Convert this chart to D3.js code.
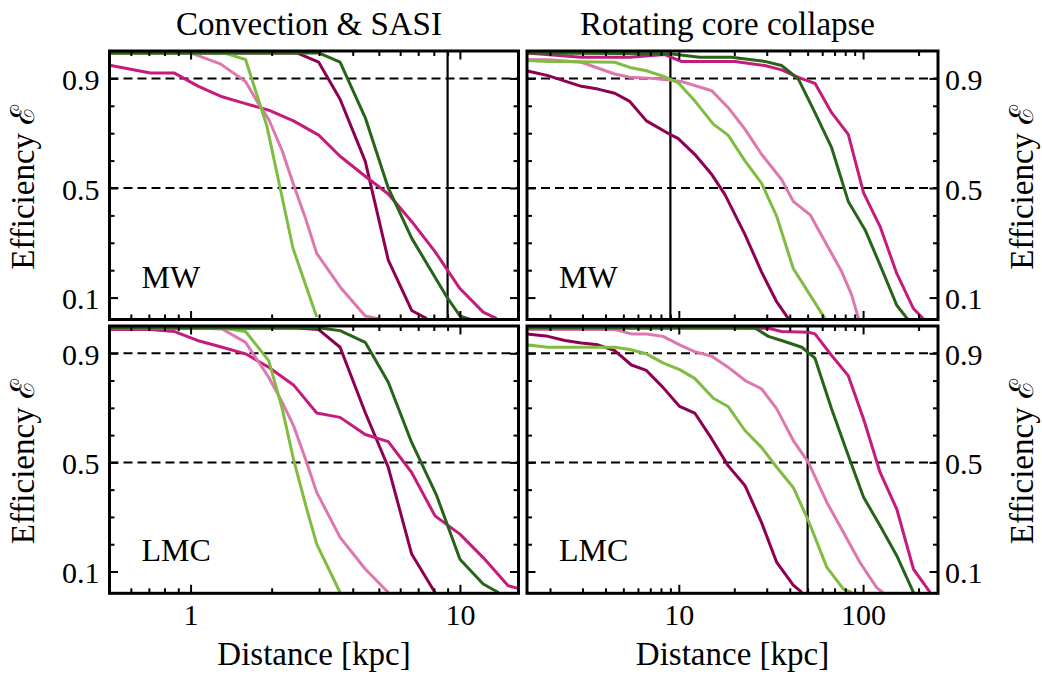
<!DOCTYPE html>
<html>
<head>
<meta charset="utf-8">
<script src="https://cdn.jsdelivr.net/npm/d3@7"></script>
<style>
  body { margin: 0; background: #fff; }
</style>
</head>
<body>
<svg id="chart" width="1042" height="674"></svg>
<script>
// line colours, same order as the series inside each panel array
const seriesColors = ["#8e0152", "#c51b7d", "#de77ae", "#7fbc41", "#276419"];

const columnTitles = ["Convection & SASI", "Rotating core collapse"];
const rowLabels = ["MW", "LMC"];
const yMajorTicks = [0.1, 0.5, 0.9];
const yMinorTicks = [0.2, 0.3, 0.4, 0.6, 0.7, 0.8];
const xMajorLeft = [1, 10];
const xMajorRight = [10, 100];
const xDomainLeft = [0.5, 16.5];
const xDomainRight = [1.5, 255];
// distance of the vertical marker in each panel (tl, tr, bl, br); null = none
const markerDistance = [9, 9, null, 50];

// [distance kpc, efficiency] per series: dark magenta, magenta, pink, light green, dark green
const convMW = [
  [[0.5,0.993],[2.48,0.993],[2.99,0.959],[3.59,0.824],[4.45,0.598],[5.42,0.237],[6.62,0.053],[7.53,0.023]],
  [[0.506,0.947],[0.71,0.92],[0.868,0.92],[1.07,0.871],[1.31,0.833],[1.6,0.808],[1.95,0.784],[2.41,0.745],[2.99,0.693],[3.59,0.616],[4.45,0.543],[5.42,0.478],[6.62,0.378],[8.08,0.268],[10,0.133],[12.2,0.047],[13.7,0.023]],
  [[0.5,0.993],[1.0,0.993],[1.29,0.953],[1.6,0.889],[1.79,0.806],[1.95,0.751],[2.19,0.635],[2.41,0.513],[2.67,0.39],[2.94,0.261],[3.59,0.139],[4.45,0.033],[4.98,0.023]],
  [[0.5,0.993],[1.33,0.993],[1.6,0.969],[1.92,0.726],[2.15,0.5],[2.4,0.28],[2.94,0.029]],
  [[0.5,0.993],[2.99,0.993],[3.59,0.959],[4.45,0.757],[5.42,0.5],[6.62,0.317],[8.93,0.103],[10,0.033],[11.2,0.017]]
];
const rotMW = [
  [[1.49,0.928],[1.95,0.91],[2.96,0.871],[3.64,0.861],[4.49,0.846],[5.42,0.816],[6.67,0.745],[8.93,0.696],[9.9,0.681],[12.2,0.623],[15.1,0.549],[17.8,0.476],[22.9,0.329],[28.1,0.194],[34,0.084],[39.3,0.023]],
  [[1.49,0.993],[2.96,0.977],[5.42,0.977],[8.39,0.987],[10.3,0.962],[13.3,0.962],[20.2,0.962],[29.3,0.947],[36.1,0.931],[44.5,0.904],[54.8,0.882],[67.5,0.775],[83.1,0.696],[100.6,0.482],[123.7,0.359],[152.3,0.188],[187.6,0.06],[216,0.017]],
  [[1.49,0.969],[1.95,0.968],[2.96,0.959],[4.49,0.916],[5.42,0.904],[6.81,0.901],[8.93,0.894],[10.3,0.889],[15.1,0.855],[18.5,0.794],[22.9,0.714],[28.1,0.623],[36.1,0.531],[41.8,0.451],[51.6,0.402],[62.2,0.304],[76.6,0.194],[86.8,0.109],[94.4,0.023]],
  [[1.49,0.965],[1.95,0.962],[2.96,0.961],[4.49,0.959],[5.42,0.94],[6.67,0.928],[8.05,0.91],[9.9,0.885],[12.2,0.818],[15.4,0.733],[18.5,0.693],[22.9,0.598],[28.1,0.518],[34,0.396],[41.8,0.206],[51.6,0.109],[62.2,0.023]],
  [[1.49,0.993],[8.93,0.99],[13.0,0.977],[19.3,0.977],[29.3,0.962],[36.1,0.947],[44.5,0.898],[54.8,0.775],[67.5,0.647],[83.1,0.451],[102.6,0.347],[126,0.206],[152.3,0.072],[176.6,0.017]]
];
const convLMC = [
  [[0.5,0.993],[2.48,0.993],[2.99,0.987],[3.59,0.922],[4.45,0.683],[5.42,0.482],[6.62,0.164],[8.08,0.023]],
  [[0.506,0.987],[0.71,0.987],[0.868,0.98],[1.06,0.947],[1.31,0.922],[1.6,0.898],[1.95,0.849],[2.41,0.784],[2.94,0.681],[3.59,0.665],[4.45,0.602],[5.42,0.576],[6.62,0.463],[8.08,0.304],[10,0.237],[12.2,0.151],[15.1,0.048],[16.4,0.038]],
  [[0.5,0.993],[1.09,0.992],[1.31,0.989],[1.6,0.94],[1.95,0.812],[2.19,0.72],[2.41,0.635],[2.67,0.512],[2.94,0.39],[3.59,0.225],[4.45,0.109],[5.42,0.023]],
  [[0.5,0.993],[1.33,0.992],[1.6,0.98],[1.95,0.873],[2.19,0.696],[2.41,0.512],[2.7,0.329],[2.94,0.2],[3.59,0.023]],
  [[0.5,0.993],[3.03,0.993],[3.59,0.983],[4.45,0.94],[5.42,0.794],[6.62,0.573],[8.2,0.378],[10,0.145],[12.2,0.054],[13.9,0.023]]
];
const rotLMC = [
  [[1.49,0.971],[1.95,0.962],[2.41,0.947],[2.96,0.938],[3.64,0.931],[4.49,0.91],[5.53,0.857],[6.67,0.837],[8.2,0.775],[10.1,0.705],[12.2,0.681],[15.1,0.586],[18.5,0.488],[22.9,0.414],[28.1,0.28],[34,0.133],[41.8,0.05],[46.5,0.023]],
  [[1.49,0.993],[17.1,0.993],[30.6,0.992],[36.1,0.98],[50.5,0.977],[54.8,0.971],[67.5,0.892],[83.1,0.818],[100.6,0.659],[123.7,0.463],[152.3,0.329],[187.6,0.109],[231,0.023]],
  [[1.49,0.987],[4.49,0.987],[5.53,0.971],[6.67,0.971],[8.2,0.962],[10.3,0.928],[12.2,0.906],[15.1,0.889],[18.5,0.849],[22.9,0.8],[28.1,0.77],[34,0.696],[41.8,0.58],[50.5,0.5],[63.6,0.353],[78.3,0.243],[96.2,0.133],[118.5,0.041],[128,0.023]],
  [[1.49,0.931],[1.95,0.922],[2.96,0.922],[4.49,0.922],[5.42,0.914],[6.67,0.898],[8.2,0.865],[10.1,0.84],[12.2,0.808],[15.4,0.735],[18.5,0.705],[22.9,0.616],[28.1,0.555],[34,0.482],[41.8,0.408],[50.5,0.286],[63.6,0.115],[78.3,0.035],[86.8,0.023]],
  [[1.49,0.993],[25.9,0.993],[30.6,0.962],[36.1,0.947],[46.5,0.922],[54.8,0.882],[67.5,0.696],[83.1,0.525],[100.6,0.372],[123.7,0.268],[152.3,0.158],[187.6,0.023]]
];

const svg = d3.select("#chart");
const tickFont = 30;
const labelFont = 33;
const serif = "'Liberation Serif', 'DejaVu Serif', 'Times New Roman', serif";

// panel boxes in pixels
const colX = [[109.5, 518.5], [527, 938]];
const rowY = [[51, 319.5], [326, 593.3]];

const panels = [
  { row: 0, col: 0, data: convMW },
  { row: 0, col: 1, data: rotMW },
  { row: 1, col: 0, data: convLMC },
  { row: 1, col: 1, data: rotLMC }
];

function minorTicks(domain) {
  var ticks = [];
  for (var e = -1; e <= 3; e++) {
    for (var k = 2; k <= 9; k++) {
      var v = k * Math.pow(10, e);
      if (v > domain[0] && v < domain[1]) ticks.push(v);
    }
  }
  return ticks;
}

panels.forEach((p, i) => {
  const x = d3.scaleLog()
    .domain(p.col === 0 ? xDomainLeft : xDomainRight)
    .range(colX[p.col]);
  const y = d3.scaleLinear()
    .domain([0.02, 1.0])
    .range([rowY[p.row][1], rowY[p.row][0]]);
  const xMajor = p.col === 0 ? xMajorLeft : xMajorRight;
  const xMinor = minorTicks(x.domain());
  const x0 = colX[p.col][0], x1 = colX[p.col][1];
  const y0 = rowY[p.row][0], y1 = rowY[p.row][1];

  const g = svg.append("g");

  svg.append("clipPath").attr("id", "clip" + i)
    .append("rect")
    .attr("x", x0).attr("y", y0)
    .attr("width", x1 - x0).attr("height", y1 - y0);

  const plot = g.append("g").attr("clip-path", "url(#clip" + i + ")");

  // dashed reference levels
  plot.selectAll("line.level")
    .data([0.9, 0.5])
    .enter().append("line")
    .attr("x1", x0).attr("x2", x1)
    .attr("y1", d => y(d)).attr("y2", d => y(d))
    .attr("stroke", "#000").attr("stroke-width", 2)
    .attr("stroke-dasharray", "9,5");

  if (markerDistance[i] !== null) {
    plot.append("line")
      .attr("x1", x(markerDistance[i])).attr("x2", x(markerDistance[i]))
      .attr("y1", y0).attr("y2", y1)
      .attr("stroke", "#000").attr("stroke-width", 2.2);
  }

  const line = d3.line().x(d => x(d[0])).y(d => y(d[1]));
  plot.selectAll("path.curve")
    .data(p.data)
    .enter().append("path")
    .attr("d", line)
    .attr("fill", "none")
    .attr("stroke", (d, j) => seriesColors[j])
    .attr("stroke-width", 3)
    .attr("stroke-linejoin", "round");

  // ticks on all four sides, pointing inward
  function addAxis(axis, tx, ty, values, size, showLabels, pad) {
    const a = axis.tickValues(values).tickSize(-size).tickPadding(pad);
    if (!showLabels) a.tickFormat("");
    else a.tickFormat(d3.format("~g"));
    const ag = g.append("g").attr("transform", "translate(" + tx + "," + ty + ")").call(a);
    ag.attr("font-family", serif);
    ag.select(".domain").remove();
    ag.selectAll(".tick line").attr("stroke-width", 2);
    ag.selectAll("text")
      .style("font-family", serif)
      .style("font-size", tickFont + "px");
    return ag;
  }

  const xb = addAxis(d3.axisBottom(x), 0, y1, xMajor, 8.5, p.row === 1, 10);
  xb.selectAll("text").attr("dy", "0.71em");
  addAxis(d3.axisBottom(x), 0, y1, xMinor, 5, false, 0);
  addAxis(d3.axisTop(x), 0, y0, xMajor, 8.5, false, 0);
  addAxis(d3.axisTop(x), 0, y0, xMinor, 5, false, 0);

  const yl = addAxis(d3.axisLeft(y), x0, 0, yMajorTicks, 8.5, p.col === 0, 10);
  yl.selectAll("text").attr("dy", "0.37em");
  addAxis(d3.axisLeft(y), x0, 0, yMinorTicks, 5, false, 0);
  const yr = addAxis(d3.axisRight(y), x1, 0, yMajorTicks, 8.5, p.col === 1, 7);
  yr.selectAll("text").attr("dy", "0.37em");
  addAxis(d3.axisRight(y), x1, 0, yMinorTicks, 5, false, 0);

  // frame
  g.append("rect")
    .attr("x", x0).attr("y", y0)
    .attr("width", x1 - x0).attr("height", y1 - y0)
    .attr("fill", "none").attr("stroke", "#000").attr("stroke-width", 3);

  g.append("text")
    .attr("x", x0 + 32).attr("y", y1 - 32)
    .style("font-family", serif)
    .style("font-size", "32px")
    .text(rowLabels[p.row]);

  // y label, left column on the left side, right column on the right side
  const lx = p.col === 0 ? 34 : 1033;
  g.append("text")
    .attr("transform", "translate(" + lx + "," + ((y0 + y1) / 2 + 2) + ") rotate(-90)")
    .attr("text-anchor", "middle")
    .style("font-family", serif)
    .style("font-size", labelFont + "px")
    .text("Efficiency ℰ");

  if (p.row === 0) {
    g.append("text")
      .attr("x", (x0 + x1) / 2 - 5).attr("y", 35)
      .attr("text-anchor", "middle")
      .style("font-family", serif)
      .style("font-size", labelFont + "px")
      .text(columnTitles[p.col]);
  } else {
    g.append("text")
      .attr("x", (x0 + x1) / 2).attr("y", 665)
      .attr("text-anchor", "middle")
      .style("font-family", serif)
      .style("font-size", labelFont + "px")
      .text("Distance [kpc]");
  }
});
</script>
</body>
</html>
